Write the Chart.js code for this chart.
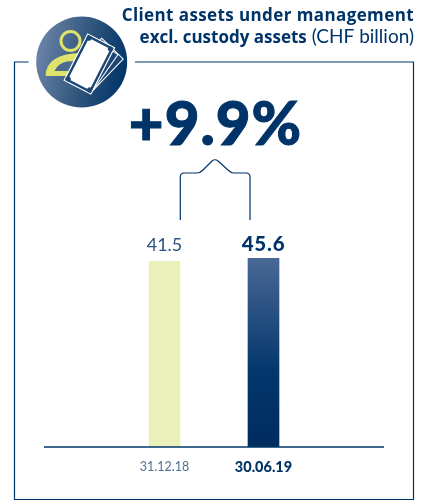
<!DOCTYPE html>
<html>
<head>
<meta charset="utf-8">
<style>
  html, body { margin: 0; padding: 0; background: #fff; }
  canvas { display: block; }
</style>
<script src="https://cdn.jsdelivr.net/npm/chart.js@4"></script>
</head>
<body>
<canvas id="assetsChart" width="424" height="500"></canvas>
<script>
const categories = ['31.12.18', '30.06.19'];
const assetValues = [41.5, 45.6];
const valueLabels = ['41.5', '45.6'];
const growthLabel = '+9.9%';
const titleLines = ['Client assets under management', 'excl. custody assets'];
const titleUnit = ' (CHF billion)';
// the original axis does not start at zero, both bars are nearly the same height
const axisMin = -212;
const axisMax = 50;

const NAVY = '#003468';
const FONT = 'Lato, sans-serif';
const TITLE_FONT = '"Open Sans", sans-serif';

function drawFrame(ctx) {
    ctx.save();
    ctx.strokeStyle = NAVY;
    ctx.lineWidth = 1.2;
    ctx.beginPath();
    ctx.moveTo(28.5, 62);
    ctx.lineTo(14.5, 62);
    ctx.lineTo(14.5, 499.5);
    ctx.lineTo(413.5, 499.5);
    ctx.lineTo(413.5, 62);
    ctx.lineTo(135, 62);
    ctx.stroke();
    ctx.restore();
}

// back notes fan out around the front note's lower right corner
function drawBackNote(ctx, angle) {
    ctx.save();
    ctx.translate(92.7, 90.7);
    ctx.rotate(angle * Math.PI / 180);
    ctx.strokeStyle = '#fff';
    ctx.fillStyle = '#1d4675';
    ctx.lineWidth = 1;
    ctx.fillRect(-30, -44, 30, 44);
    ctx.strokeRect(-30, -44, 30, 44);
    ctx.restore();
}

function drawFrontNote(ctx) {
    ctx.save();
    ctx.translate(89.3, 64);
    ctx.rotate(27 * Math.PI / 180);
    ctx.strokeStyle = '#fff';
    ctx.fillStyle = '#1d4675';
    ctx.lineWidth = 1.2;
    ctx.fillRect(-15, -26, 30, 52);
    ctx.strokeRect(-15, -26, 30, 52);
    ctx.fillStyle = '#fff';
    ctx.fillRect(-12, -23, 24, 46);
    ctx.fillStyle = '#1d4675';
    [[-12, -23], [12, -23], [-12, 23], [12, 23]].forEach(function(c) {
        ctx.beginPath();
        ctx.arc(c[0], c[1], 2.6, 0, Math.PI * 2);
        ctx.fill();
    });
    ctx.restore();
}

function drawIcon(ctx) {
    ctx.save();
    const g = ctx.createLinearGradient(36, 50, 127, 70);
    g.addColorStop(0, '#6c84a9');
    g.addColorStop(0.5, '#34587f');
    g.addColorStop(1, '#003468');
    ctx.fillStyle = g;
    ctx.beginPath();
    ctx.arc(81.7, 62, 45.5, 0, Math.PI * 2);
    ctx.fill();

    // person: head ring and D shaped shoulders
    ctx.strokeStyle = '#dfe36c';
    ctx.lineWidth = 3;
    ctx.beginPath();
    ctx.arc(70.5, 41, 9.5, 0, Math.PI * 2);
    ctx.stroke();
    ctx.fillStyle = '#dfe36c';
    ctx.beginPath();
    ctx.moveTo(45.5, 76);
    ctx.lineTo(80, 76);
    ctx.lineTo(80, 53);
    ctx.quadraticCurveTo(46, 54, 45.5, 76);
    ctx.fill();
    ctx.fillStyle = '#4a6a92';
    ctx.beginPath();
    ctx.moveTo(54.5, 71);
    ctx.lineTo(75, 71);
    ctx.lineTo(75, 61);
    ctx.lineTo(67, 61.5);
    ctx.quadraticCurveTo(58, 63, 54.5, 71);
    ctx.fill();

    // banknotes, back to front
    drawBackNote(ctx, 44);
    drawBackNote(ctx, 35);
    drawFrontNote(ctx);
    ctx.restore();
}

function drawTitle(ctx) {
    ctx.save();
    ctx.fillStyle = NAVY;
    ctx.textBaseline = 'alphabetic';
    ctx.textAlign = 'right';
    ctx.font = 'bold 17px ' + TITLE_FONT;
    ctx.letterSpacing = '0.4px';
    ctx.fillText(titleLines[0], 414, 21);
    ctx.letterSpacing = '0px';
    ctx.font = '400 19px ' + FONT;
    const unitWidth = ctx.measureText(titleUnit).width;
    ctx.fillText(titleUnit, 414, 43);
    ctx.font = 'bold 17px ' + TITLE_FONT;
    ctx.fillText(titleLines[1], 414 - unitWidth, 43);
    ctx.restore();
}

function drawBracket(ctx) {
    ctx.save();
    ctx.strokeStyle = NAVY;
    ctx.lineWidth = 1.2;
    ctx.beginPath();
    ctx.moveTo(180.3, 220);
    ctx.lineTo(180.3, 177);
    ctx.quadraticCurveTo(180.3, 173, 184, 173);
    ctx.lineTo(197, 173);
    ctx.quadraticCurveTo(200, 173, 203, 170);
    ctx.lineTo(212, 161);
    ctx.quadraticCurveTo(215, 158.5, 218, 161);
    ctx.lineTo(228, 170);
    ctx.quadraticCurveTo(231, 173, 234, 173);
    ctx.lineTo(246, 173);
    ctx.quadraticCurveTo(250, 173, 250, 177);
    ctx.lineTo(250, 220);
    ctx.stroke();
    ctx.restore();
}

const decorPlugin = {
    id: 'decor',
    afterDraw(chart) {
        const ctx = chart.ctx;
        const x = chart.scales.x;
        const y = chart.scales.y;
        drawFrame(ctx);
        drawIcon(ctx);
        drawTitle(ctx);
        drawBracket(ctx);

        // baseline runs wider than the two bars' category band
        ctx.save();
        ctx.strokeStyle = NAVY;
        ctx.lineWidth = 1.4;
        ctx.beginPath();
        ctx.moveTo(44, y.getPixelForValue(axisMin));
        ctx.lineTo(384, y.getPixelForValue(axisMin));
        ctx.stroke();

        ctx.textAlign = 'center';
        ctx.textBaseline = 'alphabetic';
        ctx.fillStyle = NAVY;
        ctx.strokeStyle = NAVY;
        ctx.lineWidth = 1;
        ctx.font = '900 60px ' + FONT;
        ctx.letterSpacing = '1px';
        ctx.fillText(growthLabel, 215.5, 145);
        ctx.strokeText(growthLabel, 215.5, 145);
        assetValues.forEach(function(v, i) {
            ctx.font = (i === 1 ? '900 20.5px ' : '400 18px ') + FONT;
            ctx.letterSpacing = i === 1 ? '0.8px' : '0px';
            ctx.fillStyle = i === 1 ? NAVY : '#2b5280';
            ctx.fillText(valueLabels[i], x.getPixelForValue(i), 251);
        });
        ctx.restore();
    }
};

new Chart(document.getElementById('assetsChart').getContext('2d'), {
    type: 'bar',
    data: {
        labels: categories,
        datasets: [{
            data: assetValues,
            base: axisMin,
            barThickness: 31,
            backgroundColor: function(context) {
                if (context.dataIndex === 0) return '#ebf0bb';
                const area = context.chart.chartArea;
                if (!area) return NAVY;
                const g = context.chart.ctx.createLinearGradient(0, 258, 0, 447);
                g.addColorStop(0, '#4a6896');
                g.addColorStop(0.6, '#03376c');
                g.addColorStop(1, '#002c60');
                return g;
            }
        }]
    },
    options: {
        responsive: false,
        animation: false,
        layout: { padding: { left: 115, right: 111, top: 255, bottom: 0 } },
        plugins: {
            legend: { display: false },
            tooltip: { enabled: false }
        },
        scales: {
            y: { display: false, min: axisMin, max: axisMax },
            x: {
                afterFit(scale) { scale.height = 53; },
                grid: { display: false },
                border: { display: false },
                ticks: {
                    padding: 4,
                    maxRotation: 0,
                    color: function(c) { return c.index === 1 ? NAVY : '#4f7099'; },
                    font: function(c) {
                        return c.index === 1
                            ? { family: FONT, size: 14.5, weight: '900' }
                            : { family: FONT, size: 12.5, weight: '400' };
                    }
                }
            }
        }
    },
    plugins: [decorPlugin]
});
</script>
</body>
</html>
